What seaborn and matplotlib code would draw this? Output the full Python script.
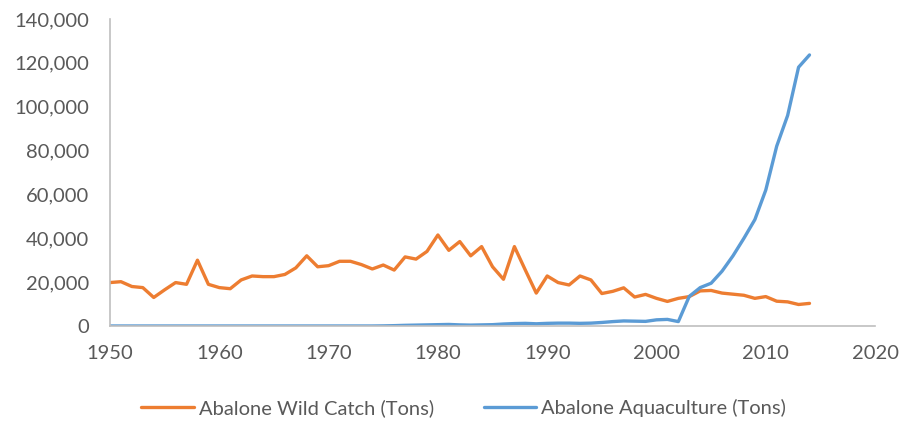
import numpy as np
import pandas as pd
import matplotlib
matplotlib.use("Agg")
import matplotlib.pyplot as plt
import seaborn as sns
from matplotlib.ticker import FuncFormatter

sns.set_theme(style="white")
plt.rcParams['font.family'] = ['Lato', 'DejaVu Sans']

# Data (tons)
years = list(range(1950, 2015))

wild_catch = [
    19800, 20200, 18000, 17500, 13000, 16500, 19800, 19000, 30000, 19000,  # 1950s
    17500, 17000, 21000, 22800, 22500, 22500, 23500, 26500, 32000, 27000,  # 1960s
    27500, 29500, 29500, 28000, 26000, 27800, 25500, 31500, 30500, 34000,  # 1970s
    41500, 34500, 38500, 32000, 36200, 27000, 21300, 36200, 25500, 15000,  # 1980s
    22800, 19800, 18700, 22800, 21000, 14800, 15800, 17400, 13200, 14400,  # 1990s
    12600, 11200, 12600, 13400, 16000, 16200, 15000, 14500, 14000, 12600,  # 2000s
    13400, 11300, 11000, 9800, 10300,                                     # 2010s
]

aquaculture = [
    0, 0, 0, 0, 0, 0, 0, 0, 0, 0,
    0, 0, 0, 0, 0, 0, 0, 0, 0, 0,
    0, 0, 0, 0, 0, 50, 150, 300, 400, 500,
    600, 700, 500, 400, 500, 600, 900, 1100, 1200, 1000,
    1200, 1300, 1300, 1200, 1300, 1600, 2000, 2300, 2200, 2100,
    2800, 3000, 2000, 13500, 17500, 19500, 25000, 32000, 40000, 48500,
    62000, 82000, 96000, 118000, 123600,
]

series_names = ['Abalone Wild Catch (Tons)', 'Abalone Aquaculture (Tons)']
series_colors = ['#ED7D31', '#5B9BD5']

df = pd.DataFrame({
    'Year': years * 2,
    'Tons': wild_catch + aquaculture,
    'Series': [series_names[0]] * len(years) + [series_names[1]] * len(years),
})

fig = plt.figure(figsize=(9.04, 4.21), dpi=100)
ax = fig.add_axes([0.1217, 0.2257, 0.8463, 0.7292])

sns.lineplot(data=df, x='Year', y='Tons', hue='Series', hue_order=series_names,
             palette=series_colors, linewidth=2.4, ax=ax, legend=False,
             solid_capstyle='round', solid_joinstyle='round')

ax.set_xlim(1950, 2020)
ax.set_ylim(0, 140000)
ax.set_xticks(np.arange(1950, 2021, 10))
ax.set_yticks(np.arange(0, 140001, 20000))
ax.yaxis.set_major_formatter(FuncFormatter(lambda v, p: f"{int(v):,}"))
ax.set_xlabel('')
ax.set_ylabel('')
ax.tick_params(axis='both', which='both', length=0, labelsize=14.5, colors='#595959')
ax.tick_params(axis='y', pad=15)
ax.tick_params(axis='x', pad=14)

for side in ['top', 'right']:
    ax.spines[side].set_visible(False)
for side in ['left', 'bottom']:
    ax.spines[side].set_color('#BFBFBF')
    ax.spines[side].set_linewidth(1.2)
ax.grid(False)

handles = [plt.Line2D([0], [0], color=c, linewidth=2.4) for c in series_colors]
fig.legend(handles, series_names, loc='center', bbox_to_anchor=(0.513, 0.031),
           ncol=2, frameon=False, fontsize=14.5, handlelength=2.6, columnspacing=2.5,
           labelcolor='#595959', handletextpad=0.25)

fig.savefig('out.png', dpi=100, facecolor='white')
